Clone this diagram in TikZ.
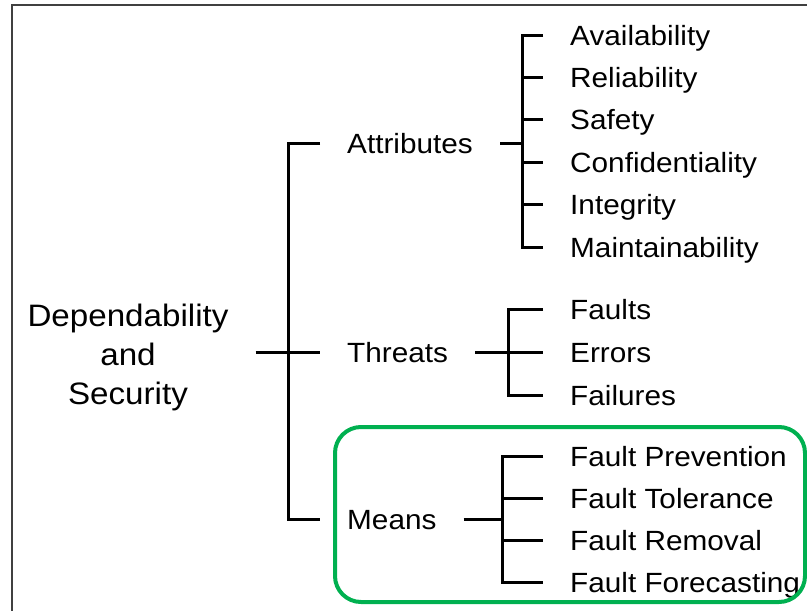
\documentclass[tikz,border=0pt]{standalone}
\usepackage{fontspec}
\setmainfont{Liberation Sans}[FakeStretch=1.07]
\definecolor{meansgreen}{RGB}{0,176,80}
\begin{document}
\begin{tikzpicture}[x=1pt,y=-1pt,every node/.style={font=\fontsize{27.8}{38.5}\selectfont,inner xsep=27pt,inner ysep=0pt},item/.style={anchor=west,text height=20pt,text depth=0pt},tree/.style={line width=3pt,black}]
  \useasboundingbox (0,0) rectangle (807,611);
  \draw[line width=2pt,black!75] (11.5,611) -- (11.5,5) -- (807,5);
  \node[align=center,font=\fontsize{31}{39}\selectfont] (dep) at (128,357) {Dependability\\and\\Security};
  \node[item] (attr) at (320,143) {Attributes};
  \node[item] (thr) at (320,352) {Threats};
  \node[item] (means) at (320,519) {Means};
  \foreach \name/\txt [count=\i from 0] in {avail/Availability,rel/Reliability,saf/Safety,conf/Confidentiality,integ/Integrity,maint/Maintainability}
    \node[item] (\name) at (543,35+42.4*\i) {\txt};
  \foreach \name/\txt [count=\i from 0] in {fau/Faults,err/Errors,fail/Failures}
    \node[item] (\name) at (543,309+43*\i) {\txt};
  \foreach \name/\txt [count=\i from 0] in {fp/Fault Prevention,ft/Fault Tolerance,fr/Fault Removal,ff/Fault Forecasting}
    \node[item] (\name) at (543,456+42.3*\i) {\txt};
  \coordinate (mainj) at (288,352);
  \coordinate (aj) at (522,143);
  \coordinate (tj) at (508,352);
  \coordinate (mj) at (502,519);
  % root bracket
  \draw[tree] (attr.west) -- (attr.west -| mainj) -- (means.west -| mainj) -- (means.west);
  \draw[tree] (dep.east |- thr.west) -- (thr.west);
  % attributes
  \draw[tree] (attr.east) -- (aj);
  \draw[tree] (avail.west) -- (avail.west -| aj) -- (maint.west -| aj) -- (maint.west);
  \foreach \name in {rel,saf,conf,integ}
    \draw[tree] (\name.west -| aj) -- (\name.west);
  % threats
  \draw[tree] (thr.east) -- (err.west);
  \draw[tree] (fau.west) -- (fau.west -| tj) -- (fail.west -| tj) -- (fail.west);
  % means
  \draw[tree] (means.east) -- (mj);
  \draw[tree] (fp.west) -- (fp.west -| mj) -- (ff.west -| mj) -- (ff.west);
  \foreach \name in {ft,fr}
    \draw[tree] (\name.west -| mj) -- (\name.west);
  \draw[line width=4pt,meansgreen,rounded corners=26pt] (335,427) rectangle (805,602);
\end{tikzpicture}
\end{document}
